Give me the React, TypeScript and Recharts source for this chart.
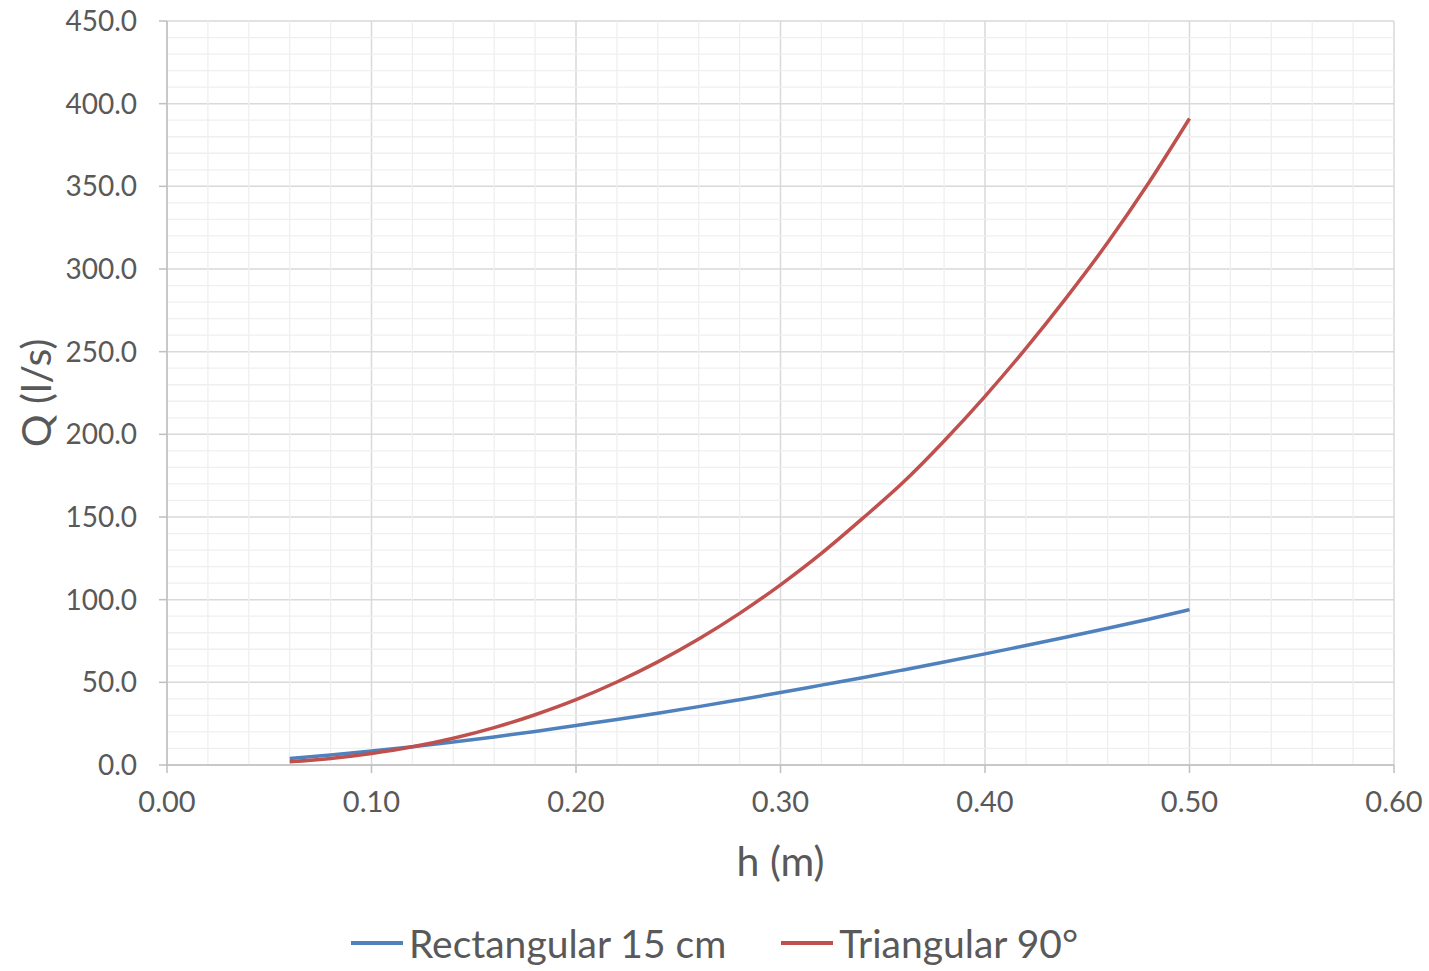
import React from "react";
import {
  LineChart,
  Line,
  XAxis,
  YAxis,
  CartesianGrid,
  ReferenceLine,
} from "recharts";

// h (m) readings
const heads = [
  0.06, 0.08, 0.1, 0.12, 0.14, 0.16, 0.18, 0.2, 0.22, 0.24, 0.26, 0.28, 0.3,
  0.32, 0.34, 0.36, 0.38, 0.4, 0.42, 0.44, 0.46, 0.48, 0.5,
];
// Q (l/s)
const rectangular = [
  4.0, 6.0, 8.4, 11.0, 13.9, 17.0, 20.3, 23.9, 27.5, 31.3, 35.3, 39.5, 43.8,
  48.3, 52.8, 57.5, 62.3, 67.2, 72.3, 77.4, 82.7, 88.2, 94.0,
];
const triangular = [
  2.0, 4.0, 7.0, 11.0, 16.2, 22.6, 30.4, 39.5, 50.2, 62.4, 76.2, 91.7, 109.0,
  128.0, 149.0, 171.0, 196.0, 223.0, 252.0, 283.0, 316.0, 352.0, 391.0,
];

const xTicks = [0, 0.1, 0.2, 0.3, 0.4, 0.5, 0.6];
const yTicks = [0, 50, 100, 150, 200, 250, 300, 350, 400, 450];

const BLUE = "#4f81bd";
const RED = "#c0504d";
const FONT = "Lato, 'Open Sans', sans-serif";

const data = heads.map((h, i) => ({
  h,
  rect: rectangular[i],
  tri: triangular[i],
}));

// minor grid every 0.02 m / 10 l/s
const minorX = Array.from({ length: 30 }, (_, i) => +(i * 0.02).toFixed(2)).filter(
  (v, i) => i % 5 !== 0
);
const minorY = Array.from({ length: 45 }, (_, i) => i * 10).filter((v) => v % 50 !== 0);

export default function App() {
  return (
    <div
      style={{
        position: "absolute",
        left: 0,
        top: 0,
        width: 1429,
        height: 971,
        background: "#fff",
        fontFamily: FONT,
      }}
    >
      <LineChart
        width={1429}
        height={971}
        data={data}
        margin={{ top: 21, right: 35, left: 0, bottom: 86 }}
      >
        {minorX.map((v) => (
          <ReferenceLine key={`mx-${v}`} x={v} stroke="#efefef" strokeWidth={1.3} />
        ))}
        {minorY.map((v) => (
          <ReferenceLine key={`my-${v}`} y={v} stroke="#efefef" strokeWidth={1.3} />
        ))}
        <CartesianGrid stroke="#d9d9d9" strokeWidth={1.5} />
        <XAxis
          dataKey="h"
          type="number"
          domain={[0, 0.6]}
          ticks={xTicks}
          tickFormatter={(v) => v.toFixed(2)}
          height={120}
          stroke="#bfbfbf"
          strokeWidth={1.5}
          tickSize={8}
          tickMargin={18}
          tick={{ fontSize: 29, fill: "#595959", fontFamily: FONT }}
          label={({ viewBox }: any) => (
            <text
              x={viewBox.x + viewBox.width / 2}
              y={viewBox.y + 95}
              textAnchor="middle"
              dominantBaseline="central"
              fontSize={41}
              fill="#595959"
              fontFamily={FONT}
            >
              h (m)
            </text>
          )}
        />
        <YAxis
          type="number"
          domain={[0, 450]}
          ticks={yTicks}
          tickFormatter={(v) => v.toFixed(1)}
          width={167}
          stroke="#bfbfbf"
          strokeWidth={1.5}
          tickSize={8}
          tickMargin={22}
          tick={{ fontSize: 28, fill: "#595959", fontFamily: FONT }}
          label={({ viewBox }: any) => (
            <text
              x={viewBox.x + 35}
              y={viewBox.y + viewBox.height / 2}
              textAnchor="middle"
              dominantBaseline="central"
              transform={`rotate(-90, ${viewBox.x + 35}, ${viewBox.y + viewBox.height / 2})`}
              fontSize={41}
              fill="#595959"
              fontFamily={FONT}
            >
              Q (l/s)
            </text>
          )}
        />
        <Line
          type="monotone"
          dataKey="rect"
          name="Rectangular 15 cm"
          stroke={BLUE}
          strokeWidth={3.5}
          dot={false}
          isAnimationActive={false}
        />
        <Line
          type="monotone"
          dataKey="tri"
          name="Triangular 90°"
          stroke={RED}
          strokeWidth={3.5}
          dot={false}
          isAnimationActive={false}
        />
      </LineChart>
      <div
        style={{
          position: "absolute",
          top: 920,
          left: 0,
          width: 1429,
          display: "flex",
          justifyContent: "center",
          gap: 55,
          fontSize: 39,
          color: "#595959",
          lineHeight: "46px",
        }}
      >
        {[
          { name: "Rectangular 15 cm", color: BLUE },
          { name: "Triangular 90°", color: RED },
        ].map((s) => (
          <div key={s.name} style={{ display: "flex", alignItems: "center" }}>
            <span
              style={{
                display: "inline-block",
                width: 52,
                height: 3.5,
                background: s.color,
                marginRight: 6,
              }}
            />
            {s.name}
          </div>
        ))}
      </div>
    </div>
  );
}
